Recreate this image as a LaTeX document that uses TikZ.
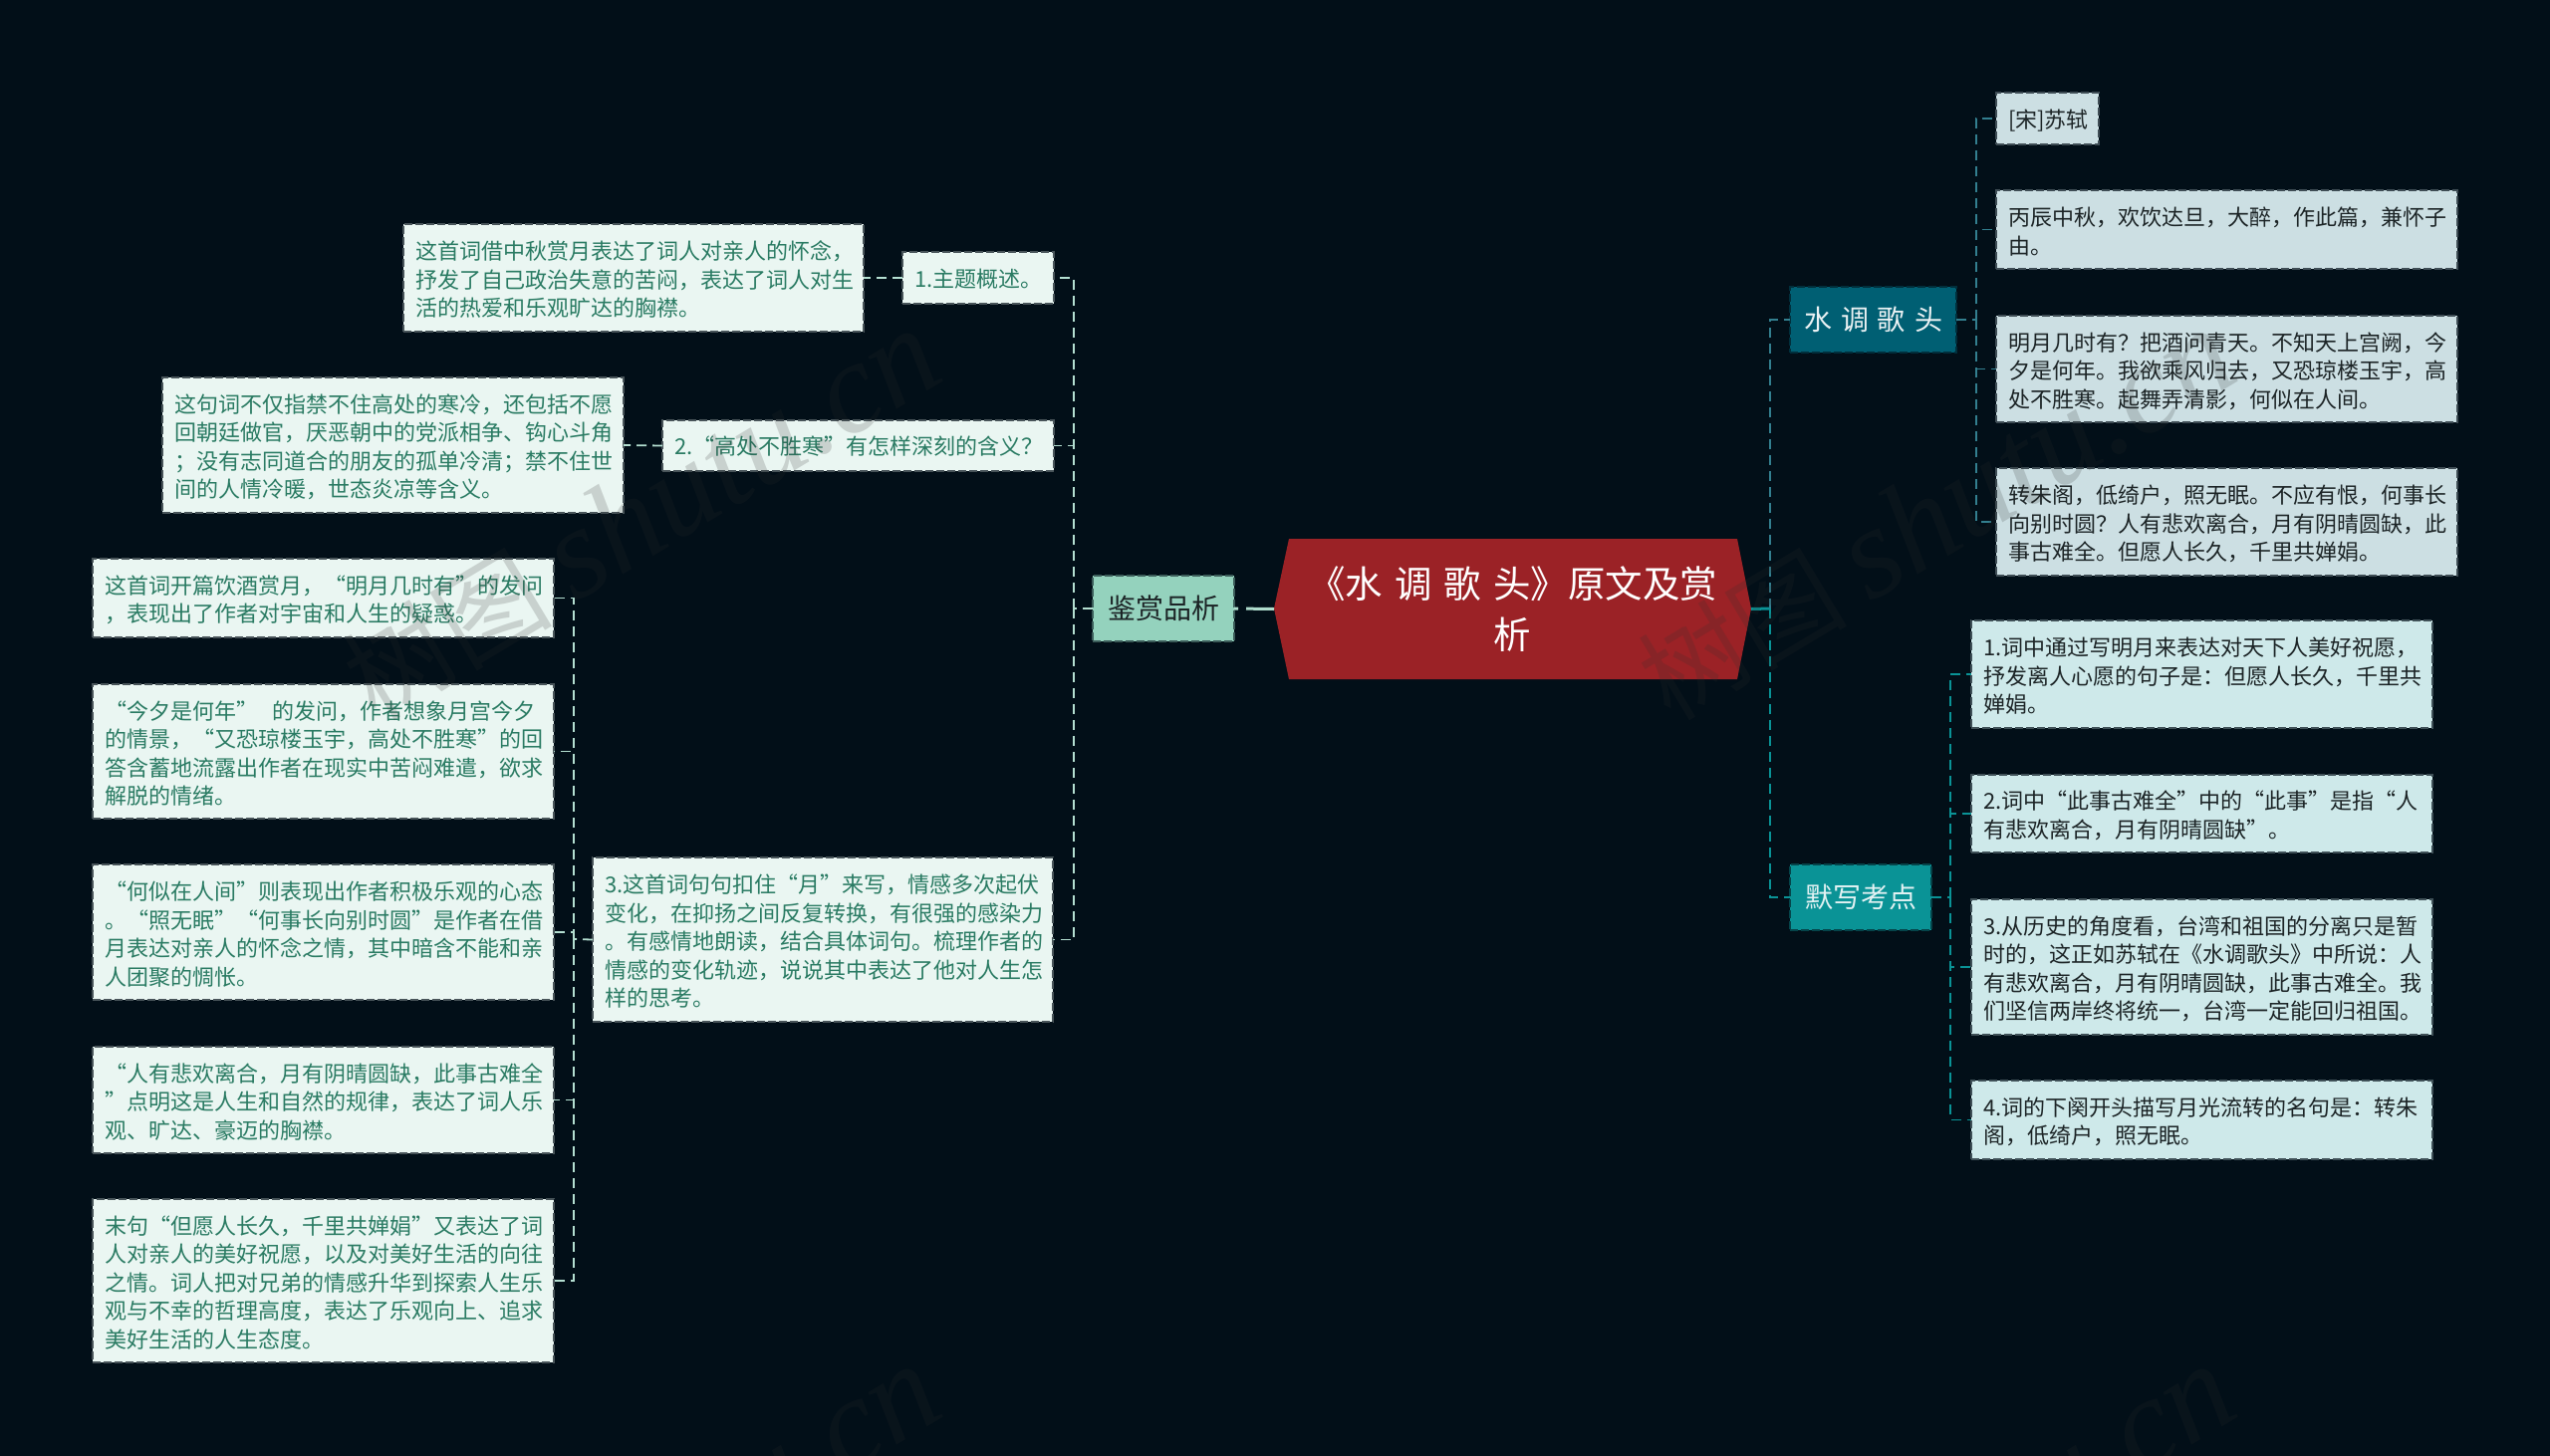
\documentclass[tikz,border=0pt]{standalone}
\usepackage{fontspec}
\setmainfont{Noto Sans CJK SC}
\newfontfamily\wmlatin{Liberation Serif}
\definecolor{bgc}{HTML}{020F18}
\definecolor{rootred}{HTML}{9B2226}
\definecolor{deep}{HTML}{005F73}
\definecolor{midt}{HTML}{0A9396}
\definecolor{mint}{HTML}{94D2BD}
\definecolor{fillA}{HTML}{CCDFE3}
\definecolor{fillB}{HTML}{CEE9EA}
\definecolor{fillC}{HTML}{EAF6F2}
\definecolor{txtC}{HTML}{2A7B63}
\definecolor{txtD}{HTML}{1C2426}
\tikzset{
  bx/.style={rectangle,draw=#1,line width=1.8pt,dash pattern=on 8pt off 3pt,inner xsep=0pt,inner ysep=0pt,outer sep=0pt,align=left,
    font=\fontsize{22}{28.5}\selectfont,execute at begin node={\lineskiplimit=-20pt\relax},execute at end node={\par\vspace*{-4pt}}},
  leafA/.style={bx=bgc!70!fillA,fill=fillA,text=txtD},
  leafB/.style={bx=bgc!70!fillB,fill=fillB,text=txtD},
  leafC/.style={bx=bgc!70!fillC,fill=fillC,text=txtC},
  topic/.style={rectangle,line width=1.8pt,dash pattern=on 8pt off 3pt,inner sep=0pt,outer sep=0pt,align=center,
    font=\fontsize{28}{34}\selectfont},
  connC/.style={draw=mint!70!white,line width=1.8pt,dash pattern=on 10pt off 6pt},
  connA/.style={draw=deep!80!white,line width=1.8pt,dash pattern=on 10pt off 6pt},
  connB/.style={draw=midt,line width=1.8pt,dash pattern=on 10pt off 6pt},
  wm/.style={rotate=31,draw=none,text=black!82,opacity=.18,font=\fontsize{105}{130}\selectfont},
}
% name, style, x1, y1, x2, y2, text
\newcommand{\bxn}[7]{\node[#2,minimum width={(#5-#3)*1pt},minimum height={(#6-#4)*1pt},text width={(#5-#3-24)*1pt}] (#1) at ({(#3+#5)/2},{(#4+#6)/2}) {#7};}
\newcommand{\wmn}[3]{\node[wm] (#1) at (#2,#3) {树图 {\wmlatin\fontsize{130}{130}\selectfont\itshape shutu.cn}};}
\begin{document}
\begin{tikzpicture}[x=1pt,y=-1pt]
\useasboundingbox (0,0) rectangle (2560,1462);
\fill[bgc] (0,0) rectangle (2560,1462);
\clip (0,0) rectangle (2560,1462);
% root
\fill[rootred] (1279,611) -- (1294,541) -- (1744,541) -- (1758,611) -- (1744,682) -- (1294,682) -- cycle;
\node[align=center,text=white,inner sep=0pt,outer sep=0pt,minimum width=479pt,minimum height=141pt,
  font=\fontsize{37.5}{51}\selectfont] (root) at (1518.5,611.5) {\spaceskip=12pt\relax 《水 调 歌 头》原文及赏\\析};
% topics
\node[topic,draw=bgc!60!deep,fill=deep,text=white!92!deep,minimum width=167pt,minimum height=66pt] (shui) at (1880.5,321) {\spaceskip=9pt\relax 水 调 歌 头};
\node[topic,draw=bgc!60!midt,fill=midt,text=white!88!midt,minimum width=142pt,minimum height=66pt] (mo) at (1868,901) {默写考点};
\node[topic,draw=bgc!60!mint,fill=mint,text=txtD,minimum width=142pt,minimum height=66pt] (jian) at (1168,611) {鉴赏品析};
% right upper leaves
\bxn{a1}{leafA}{2004}{93}{2107}{145}{[宋]苏轼}
\bxn{a2}{leafA}{2004}{191}{2467}{270}{丙辰中秋，欢饮达旦，大醉，作此篇，兼怀子\\由。}
\bxn{a3}{leafA}{2004}{317}{2467}{424}{明月几时有？把酒问青天。不知天上宫阙，今\\夕是何年。我欲乘风归去，又恐琼楼玉宇，高\\处不胜寒。起舞弄清影，何似在人间。}
\bxn{a4}{leafA}{2004}{470}{2467}{578}{转朱阁，低绮户，照无眠。不应有恨，何事长\\向别时圆？人有悲欢离合，月有阴晴圆缺，此\\事古难全。但愿人长久，千里共婵娟。}
% right lower leaves
\bxn{b1}{leafB}{1979}{623}{2442}{731}{1.词中通过写明月来表达对天下人美好祝愿，\\抒发离人心愿的句子是：但愿人长久，千里共\\婵娟。}
\bxn{b2}{leafB}{1979}{778}{2442}{856}{2.词中“此事古难全”中的“此事”是指“人\\有悲欢离合，月有阴晴圆缺”。}
\bxn{b3}{leafB}{1979}{903}{2442}{1039}{3.从历史的角度看，台湾和祖国的分离只是暂\\时的，这正如苏轼在《水调歌头》中所说：人\\有悲欢离合，月有阴晴圆缺，此事古难全。我\\们坚信两岸终将统一，台湾一定能回归祖国。}
\bxn{b4}{leafB}{1979}{1085}{2442}{1164}{4.词的下阕开头描写月光流转的名句是：转朱\\阁，低绮户，照无眠。}
% left level 1
\bxn{c1}{leafC}{906}{253}{1058}{305}{1.主题概述。}
\bxn{c2}{leafC}{665}{422}{1058}{473}{2.“高处不胜寒”有怎样深刻的含义？}
\bxn{c3}{leafC}{595}{861}{1057}{1026}{3.这首词句句扣住“月”来写，情感多次起伏\\变化，在抑扬之间反复转换，有很强的感染力\\。有感情地朗读，结合具体词句。梳理作者的\\情感的变化轨迹，说说其中表达了他对人生怎\\样的思考。}
% left level 2
\bxn{d1}{leafC}{405}{225}{867}{333}{这首词借中秋赏月表达了词人对亲人的怀念，\\抒发了自己政治失意的苦闷，表达了词人对生\\活的热爱和乐观旷达的胸襟。}
\bxn{d2}{leafC}{163}{379}{626}{515}{这句词不仅指禁不住高处的寒冷，还包括不愿\\回朝廷做官，厌恶朝中的党派相争、钩心斗角\\；没有志同道合的朋友的孤单冷清；禁不住世\\间的人情冷暖，世态炎凉等含义。}
\bxn{e1}{leafC}{93}{561}{556}{640}{这首词开篇饮酒赏月，“明月几时有”的发问\\，表现出了作者对宇宙和人生的疑惑。}
\bxn{e2}{leafC}{93}{687}{556}{822}{“今夕是何年”\ \ 的发问，作者想象月宫今夕\\的情景，“又恐琼楼玉宇，高处不胜寒”的回\\答含蓄地流露出作者在现实中苦闷难遣，欲求\\解脱的情绪。}
\bxn{e3}{leafC}{93}{868}{556}{1004}{“何似在人间”则表现出作者积极乐观的心态\\。“照无眠”“何事长向别时圆”是作者在借\\月表达对亲人的怀念之情，其中暗含不能和亲\\人团聚的惆怅。}
\bxn{e4}{leafC}{93}{1051}{556}{1158}{“人有悲欢离合，月有阴晴圆缺，此事古难全\\”点明这是人生和自然的规律，表达了词人乐\\观、旷达、豪迈的胸襟。}
\bxn{e5}{leafC}{93}{1204}{556}{1368}{末句“但愿人长久，千里共婵娟”又表达了词\\人对亲人的美好祝愿，以及对美好生活的向往\\之情。词人把对兄弟的情感升华到探索人生乐\\观与不幸的哲理高度，表达了乐观向上、追求\\美好生活的人生态度。}
% trunk coordinates
\coordinate (tR) at (1777,611);
\coordinate (tA) at (1984,321);
\coordinate (tB) at (1958,901);
\coordinate (tL) at (1078,611);
\coordinate (tE) at (576,943);
% connectors: root
\draw[draw=mint!75!white,line width=3pt,dash pattern=on 28pt off 8pt] (root.west) -- (jian.east);
\draw[draw=midt,line width=3pt] (root.east) -- (tR);
\draw[connA] (tR) |- (shui.west);
\draw[connB] (tR) |- (mo.west);
% right upper
\draw[connA] (shui.east) -- (tA);
\foreach \n in {a1,a2,a3,a4} \draw[connA] (tA) |- (\n.west);
% right lower
\draw[connB] (mo.east) -- (tB);
\foreach \n in {b1,b2,b3,b4} \draw[connB] (tB) |- (\n.west);
% left
\draw[connC] (jian.west) -- (tL);
\foreach \n in {c1,c2,c3} \draw[connC] (tL) |- (\n.east);
\draw[connC] (c1.west) -- (d1.east);
\draw[connC] (c2.west) -- (d2.east);
\draw[connC] (c3.west) -- (tE);
\foreach \n in {e1,e2,e3,e4,e5} \draw[connC] (tE) |- (\n.east);
% watermark
\wmn{w1}{644}{518}
\wmn{w2}{1944}{518}
\wmn{w3}{644}{1558}
\wmn{w4}{1944}{1558}
\end{tikzpicture}
\end{document}
